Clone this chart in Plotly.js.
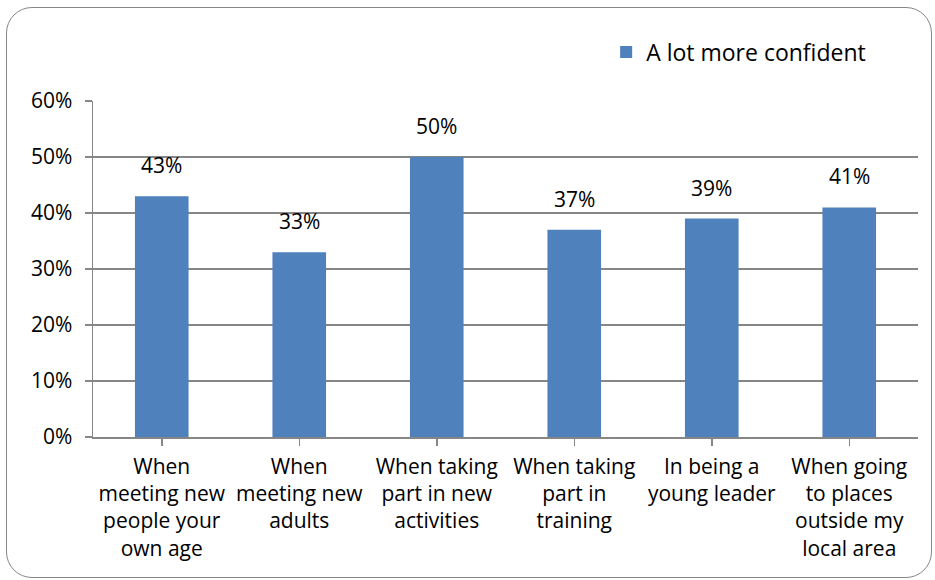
<!DOCTYPE html>
<html>
<head>
<meta charset="utf-8">
<script src="https://cdn.plot.ly/plotly-3.0.1.min.js"></script>
<style>
html,body{margin:0;padding:0;background:#fff;}
#wrap{position:relative;width:935px;height:580px;}
#chart{width:935px;height:580px;}
#frame{position:absolute;left:6px;top:7px;width:926px;height:571px;border:1.5px solid #868686;border-radius:26px;pointer-events:none;box-sizing:border-box;}
</style>
</head>
<body>
<div id="wrap"><div id="chart"></div><div id="frame"></div></div>
<script>
const categories = [
  "When<br>meeting new<br>people your<br>own age",
  "When<br>meeting new<br>adults",
  "When taking<br>part in new<br>activities",
  "When taking<br>part in<br>training",
  "In being a<br>young leader",
  "When going<br>to places<br>outside my<br>local area"
];
const values = [0.43, 0.33, 0.50, 0.37, 0.39, 0.41];
const seriesName = "A lot more confident";
const yTickVals = [0, 0.1, 0.2, 0.3, 0.4, 0.5, 0.6];
const yTickText = ["0%", "10%", "20%", "30%", "40%", "50%", "60%"];

const FONT = "Open Sans, Lato, sans-serif";
const FS = 21;
const xs = categories.map((c, i) => i);

const trace = {
  type: "bar",
  x: xs,
  y: values,
  name: seriesName,
  marker: {color: "#4F81BD"},
  showlegend: true
};

const annotations = values.map((v, i) => ({
  x: i, y: v, xref: "x", yref: "y",
  text: Math.round(v * 100) + "%",
  showarrow: false, yanchor: "bottom", yshift: 15,
  font: {family: FONT, size: FS, color: "#000"}
}));

const layout = {
  width: 935, height: 580,
  margin: {l: 93, r: 17, t: 101, b: 143},
  paper_bgcolor: "rgba(0,0,0,0)",
  plot_bgcolor: "#fff",
  font: {family: FONT, size: FS, color: "#000"},
  bargap: 0.61,
  xaxis: {
    tickmode: "array", tickvals: xs, ticktext: categories,
    range: [-0.5, 5.5],
    showgrid: false, zeroline: false,
    showline: true, linecolor: "#868686", linewidth: 1.5,
    ticks: "outside", tickson: "boundaries", ticklen: 7, tickcolor: "#868686", tickwidth: 1.5,
    tickfont: {family: FONT, size: FS, color: "#000"},
    tickangle: 0,
    ticklabelstandoff: 3
  },
  yaxis: {
    range: [0, 0.6],
    tickmode: "array", tickvals: yTickVals, ticktext: yTickText,
    showgrid: true, gridcolor: "#868686", gridwidth: 1.5,
    zeroline: false,
    showline: true, linecolor: "#868686", linewidth: 1.5,
    ticks: "outside", ticklen: 7, tickcolor: "#868686", tickwidth: 1.5,
    tickfont: {family: FONT, size: FS, color: "#000"},
    ticklabelstandoff: 8
  },
  legend: {
    x: 0.622, y: 1.146, xanchor: "left", yanchor: "middle",
    itemwidth: 30,
    font: {family: FONT, size: 23, color: "#000"},
    bgcolor: "rgba(0,0,0,0)"
  },
  annotations: annotations
};

Plotly.newPlot("chart", [trace], layout, {displayModeBar: false, staticPlot: true});
</script>
</body>
</html>
